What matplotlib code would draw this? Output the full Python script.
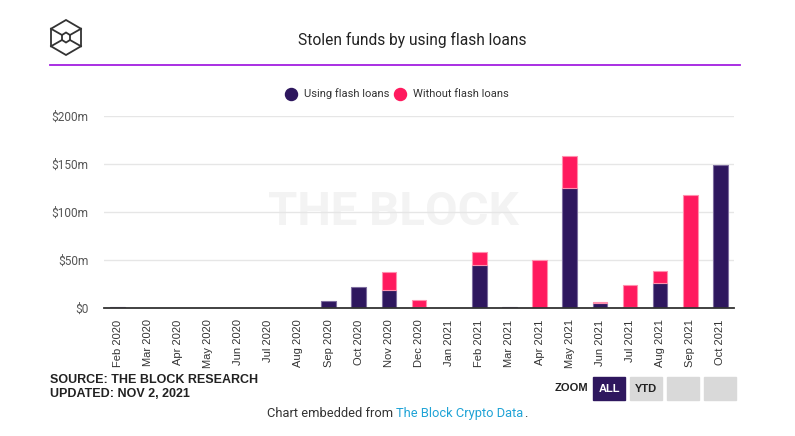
import numpy as np
import matplotlib
matplotlib.use('Agg')
from matplotlib import pyplot as plt
from matplotlib.patches import Rectangle, Polygon

# monthly stolen funds, $m
months = ['Feb 2020', 'Mar 2020', 'Apr 2020', 'May 2020', 'Jun 2020', 'Jul 2020',
          'Aug 2020', 'Sep 2020', 'Oct 2020', 'Nov 2020', 'Dec 2020', 'Jan 2021',
          'Feb 2021', 'Mar 2021', 'Apr 2021', 'May 2021', 'Jun 2021', 'Jul 2021',
          'Aug 2021', 'Sep 2021', 'Oct 2021']
using = [1.0, 0, 0, 0, 0, 0, 0, 7.3, 21.9, 18.7, 1.7, 0,
         44.8, 1.3, 0, 125.0, 5.2, 1.7, 26.0, 0, 149.0]
without = [0, 0, 0, 0, 0, 0, 0, 0, 0, 18.8, 6.6, 0,
           13.5, 0, 50.6, 33.3, 1.3, 22.3, 12.5, 117.7, 0]
yticks = [0, 50, 100, 150, 200]
ytick_labels = ['$0', '$50m', '$100m', '$150m', '$200m']

dark = '#2e175e'
pink = '#ff1a5e'
W, H = 795, 436

plt.rcParams['font.family'] = ['Roboto', 'DejaVu Sans']
fig = plt.figure(figsize=(W / 100, H / 100), dpi=100)
fig.patch.set_facecolor('white')

ax = fig.add_axes([104 / W, 1 - 308.3 / H, 630 / W, 192.3 / H])
x = np.arange(len(months))
u = np.array(using)
w = np.array(without)
ax.bar(x, u, width=0.48, color=dark, edgecolor='#7d6d9e',
       linewidth=np.where(u > 0, 0.8, 0), zorder=3)
ax.bar(x, w, width=0.48, bottom=u, color=pink, edgecolor='#ff8fae',
       linewidth=np.where(w > 0, 0.8, 0), zorder=3)

ax.set_xlim(-0.45, len(months) - 0.55)
ax.set_ylim(0, 200)
ax.set_yticks(yticks)
ax.set_yticklabels(ytick_labels, fontsize=8.6, color='#555555')
ax.set_xticks(x)
ax.set_xticklabels(months, rotation=90, fontsize=8, color='#333333',
                   family=['Liberation Sans', 'DejaVu Sans'])
ax.tick_params(axis='both', length=0)
ax.tick_params(axis='y', pad=11)
ax.tick_params(axis='x', pad=8)
ax.grid(axis='y', color='#e6e6e6', linewidth=1, zorder=0)
for s in ['top', 'right', 'left']:
    ax.spines[s].set_visible(False)
ax.spines['bottom'].set_color('#333333')
ax.spines['bottom'].set_linewidth(1.3)
ax.spines['bottom'].set_zorder(4)
ax.text(0.46, 0.5, 'THE BLOCK', transform=ax.transAxes, ha='center', va='center',
        fontsize=34, fontweight='bold', color='#f3f3f3', zorder=1)

# overlay in pixel coordinates for header / footer pieces
ov = fig.add_axes([0, 0, 1, 1])
ov.set_xlim(0, W)
ov.set_ylim(H, 0)
ov.axis('off')
ov.patch.set_alpha(0)

# logo
cx, cy, rx, ry = 66, 37.5, 15, 17.5
ang = np.deg2rad([90, 30, -30, -90, -150, 150])
ox = cx + rx * np.cos(ang) / np.cos(np.deg2rad(30))
oy = cy - ry * np.sin(ang)
ov.add_patch(Polygon(np.c_[ox, oy], closed=True, fill=False, ec='#333333', lw=1.3))
ix = cx + 4 * np.cos(ang) / np.cos(np.deg2rad(30))
iy = cy - 5 * np.sin(ang)
ov.add_patch(Polygon(np.c_[ix, iy], closed=True, fill=False, ec='#333333', lw=1.3))
for k in [1, 2, 4, 5]:
    ov.plot([ox[k], ix[k]], [oy[k], iy[k]], color='#333333', lw=1.3)

ov.text(412, 40, 'Stolen funds by using flash loans', ha='center', va='center',
        fontsize=11.2, color='#222222')
ov.plot([50, 740], [65, 65], color='#a21fe0', lw=1.3)

# legend
ov.scatter([291], [94], s=75, color=dark)
ov.text(304, 94, 'Using flash loans', ha='left', va='center', fontsize=8, color='#333333')
ov.scatter([400], [94], s=75, color=pink)
ov.text(413, 94, 'Without flash loans', ha='left', va='center', fontsize=8, color='#333333')

# source
src_font = ['Liberation Sans Narrow', 'Liberation Sans', 'DejaVu Sans']
ov.text(50, 380, 'SOURCE: THE BLOCK RESEARCH', ha='left', va='center', fontsize=9,
        fontweight='bold', color='#222222', family=src_font)
ov.text(50, 394, 'UPDATED: NOV 2, 2021', ha='left', va='center', fontsize=9,
        fontweight='bold', color='#222222', family=src_font)

# zoom buttons
ov.text(588, 388, 'ZOOM', ha='right', va='center', fontsize=8, fontweight='bold',
        color='#222222', family=src_font)
buttons = [(593, 'ALL', dark, 'white'), (630, 'YTD', '#d9d9d9', '#222222'),
           (667, '', '#d9d9d9', '#222222'), (704, '', '#d9d9d9', '#222222')]
for bx, lab, fc, tc in buttons:
    ov.add_patch(Rectangle((bx, 377), 32, 23, color=fc))
    if lab:
        ov.text(bx + 16, 389, lab, ha='center', va='center', fontsize=8,
                fontweight='bold', color=tc, family=src_font)

# footer
t1 = ov.text(267, 413, 'Chart embedded from ', ha='left', va='center', fontsize=9.3,
             color='#333333')
t2 = ov.annotate('The Block Crypto Data', xycoords=t1, xy=(1, 0), va='bottom',
                 fontsize=9.3, color='#1fa3d6')
ov.annotate('.', xycoords=t2, xy=(1, 0), va='bottom', fontsize=9.3, color='#333333')

fig.savefig('out.png', dpi=100)
